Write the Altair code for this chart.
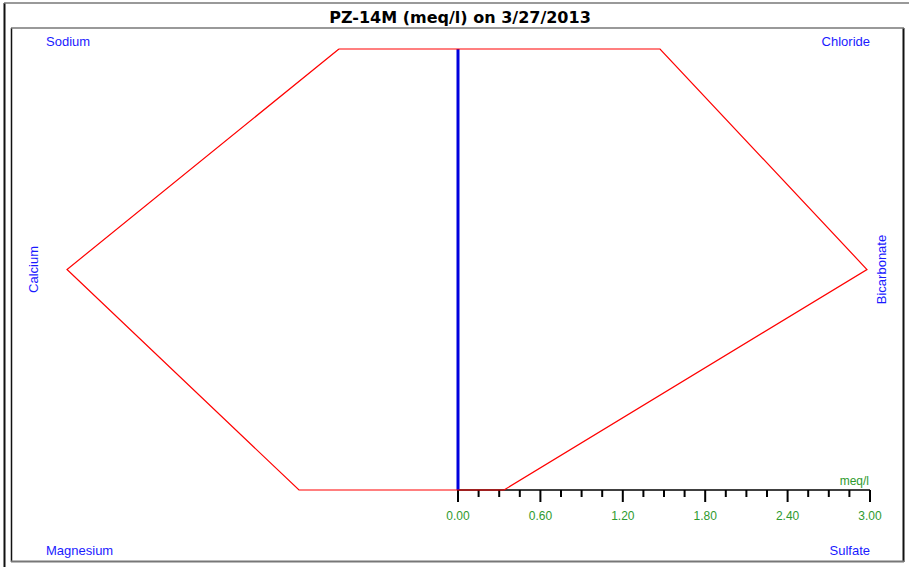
import altair as alt
import pandas as pd

# Stiff diagram values (meq/l); cations plot to the left, anions to the right
cations = ["Sodium", "Calcium", "Magnesium"]
cation_meq = [0.867, 2.847, 1.158]
anions = ["Chloride", "Bicarbonate", "Sulfate"]
anion_meq = [1.471, 2.978, 0.335]
rows = [0, 1, 2]

# bottom scale
major_ticks = [0.0, 0.6, 1.2, 1.8, 2.4, 3.0]
minor_ticks = [0.15, 0.3, 0.45, 0.75, 0.9, 1.05, 1.35, 1.5, 1.65,
               1.95, 2.1, 2.25, 2.55, 2.7, 2.85]
tick_labels = ["0.00", "0.60", "1.20", "1.80", "2.40", "3.00"]
scale_max = 3.0
title_text = "PZ-14M (meq/l) on 3/27/2013"

W, H = 909, 567
BLUE = "#1a1aff"
GREEN = "#2e9a2e"
FONT = "Liberation Sans"

xs = alt.Scale(domain=[-3.335, 3.284], nice=False, zero=False)
ys = alt.Scale(domain=[-0.2222, 2.3492], nice=False, zero=False, reverse=True)

# closed polygon: cations top->bottom, then anions bottom->top
poly = pd.DataFrame({
    "v": [-cation_meq[0], -cation_meq[1], -cation_meq[2],
          anion_meq[2], anion_meq[1], anion_meq[0], -cation_meq[0]],
    "row": [0, 1, 2, 2, 1, 0, 0],
    "k": list(range(7)),
})

X = lambda f: alt.X(f, type="quantitative", scale=xs, axis=None)
Y = lambda f: alt.Y(f, type="quantitative", scale=ys, axis=None)

# frame lines
frame_df = pd.DataFrame({
    "x1": [4.5, 11.5, 903.5, 4, 11, 11],
    "x2": [4.5, 11.5, 903.5, 909, 904, 904],
    "y1": [3, 28, 28, 3, 28, 561.5],
    "y2": [567, 562, 562, 3, 28, 561.5],
    "c": ["#111111", "#111111", "#111111", "#777777", "#777777", "#777777"],
    "w": [2, 1.5, 2, 1.5, 1.5, 2],
})
frame = alt.Chart(frame_df).mark_rule().encode(
    x=alt.X("x1:Q", scale=None, axis=None),
    x2="x2:Q",
    y=alt.Y("y1:Q", scale=None, axis=None),
    y2="y2:Q",
    color=alt.Color("c:N", scale=None, legend=None),
    strokeWidth=alt.StrokeWidth("w:Q", scale=None, legend=None),
)

# axis line along the bottom row
axis_line = alt.Chart(pd.DataFrame({"a": [0.0], "b": [scale_max], "row": [2]})).mark_rule(
    color="#000000", strokeWidth=1.5
).encode(x=X("a"), x2="b", y=Y("row"))

minor = alt.Chart(pd.DataFrame({"t": minor_ticks, "row": 2})).mark_rule(
    color="#000000", strokeWidth=2, y2Offset=7
).encode(x=X("t"), y=Y("row"), y2="row")

major = alt.Chart(pd.DataFrame({"t": major_ticks, "row": 2})).mark_rule(
    color="#000000", strokeWidth=2, y2Offset=12
).encode(x=X("t"), y=Y("row"), y2="row")

labels = alt.Chart(pd.DataFrame({"t": major_ticks, "lab": tick_labels, "row": 2})).mark_text(
    color=GREEN, font=FONT, fontSize=12, dy=26, baseline="middle"
).encode(x=X("t"), y=Y("row"), text="lab:N")

unit = alt.Chart(pd.DataFrame({"t": [scale_max], "row": [2], "u": ["meq/l"]})).mark_text(
    color=GREEN, font=FONT, fontSize=12, dy=-9, dx=-1, align="right", baseline="middle"
).encode(x=X("t"), y=Y("row"), text="u:N")

# centre line
center = alt.Chart(pd.DataFrame({"v": [0.0], "a": [0], "b": [2]})).mark_rule(
    color="#0000dd", strokeWidth=3
).encode(x=X("v"), y=Y("a"), y2="b")

shape = alt.Chart(poly).mark_line(color="#ff0000", strokeWidth=1.2).encode(
    x=X("v"), y=Y("row"), order="k:Q"
)

# ion names in the corners and at the sides
top_bottom = pd.DataFrame({
    "x": [-scale_max, scale_max, -scale_max, scale_max],
    "row": [0, 0, 2, 2],
    "name": [cations[0], anions[0], cations[2], anions[2]],
    "al": ["left", "right", "left", "right"],
    "dy": [-7, -7, 61, 61],
})
corner_txt = []
for _, r in top_bottom.iterrows():
    corner_txt.append(
        alt.Chart(pd.DataFrame([r])).mark_text(
            color=BLUE, font=FONT, fontSize=13, align=r["al"], baseline="middle", dy=int(r["dy"])
        ).encode(x=X("x"), y=Y("row"), text="name:N")
    )

side_df = pd.DataFrame({"x": [-scale_max, scale_max], "row": [1, 1], "name": [cations[1], anions[1]]})
side_left = alt.Chart(side_df.iloc[[0]]).mark_text(
    color=BLUE, font=FONT, fontSize=13, angle=270, align="center", baseline="middle", dy=-12
).encode(x=X("x"), y=Y("row"), text="name:N")
side_right = alt.Chart(side_df.iloc[[1]]).mark_text(
    color=BLUE, font=FONT, fontSize=13, angle=270, align="center", baseline="middle", dy=12
).encode(x=X("x"), y=Y("row"), text="name:N")

title = alt.Chart(pd.DataFrame({"t": [title_text]})).mark_text(
    font="DejaVu Sans", fontWeight="bold", fontSize=16, color="#000000",
    align="center", baseline="middle"
).encode(x=alt.value(460), y=alt.value(18), text="t:N")

chart = alt.layer(
    frame, axis_line, minor, major, labels, unit, center, shape,
    *corner_txt, side_left, side_right, title
).properties(
    width=W, height=H, autosize=alt.AutoSizeParams(type="none"), padding=0,
    background="#ffffff"
).configure_view(stroke=None)

chart.save("out.html", embed_options={"renderer": "svg", "actions": False})
